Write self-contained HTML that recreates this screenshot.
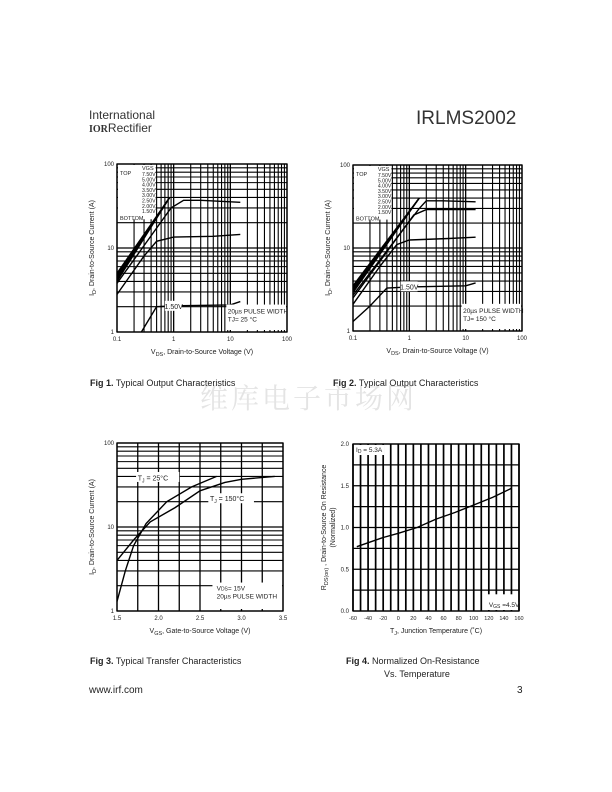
<!DOCTYPE html>
<html><head><meta charset="utf-8"><style>
body{margin:0;background:#fff;}
svg{display:block;font-family:"Liberation Sans",sans-serif;}
</style></head><body>
<svg id="pg" width="612" height="792" viewBox="0 0 612 792">
<g>
<text x="89" y="119" font-size="12" fill="#333">International</text>
<text x="89" y="132" font-size="12" fill="#333"><tspan font-weight="bold" font-family="Liberation Serif" font-size="10">IOR</tspan>Rectifier</text>
<text x="416" y="124" font-size="19" fill="#333">IRLMS2002</text>
</g>
<text x="200" y="408" font-size="28" fill="#e4e4e4" font-family="Liberation Serif,'Noto Serif CJK SC',serif" letter-spacing="3">维库电子市场网</text>
<text x="90" y="386" font-size="9" fill="#222"><tspan font-weight="bold">Fig 1.</tspan>  Typical Output Characteristics</text>
<text x="333" y="386" font-size="9" fill="#222"><tspan font-weight="bold">Fig 2.</tspan>  Typical Output Characteristics</text>
<text x="90" y="664" font-size="9" fill="#222"><tspan font-weight="bold">Fig 3.</tspan>  Typical Transfer Characteristics</text>
<text x="346" y="664" font-size="9" fill="#222"><tspan font-weight="bold">Fig 4.</tspan>  Normalized On-Resistance</text>
<text x="384" y="677" font-size="9" fill="#222">Vs. Temperature</text>
<text x="89" y="693" font-size="10" fill="#222">www.irf.com</text>
<text x="517" y="693" font-size="10" fill="#222">3</text>
</svg>
<script>
// ---- data ----
const fig1Labels = ["7.50V","5.00V","4.00V","3.50V","3.00V","2.50V","2.00V","1.50V"];
const fig1VdsCluster = [0.1, 0.85];
const fig1IdClusterStart = [5.0, 4.8, 4.6, 4.4, 4.2, 4.0];
const fig1IdClusterEnd = [40, 40, 40, 40, 40, 40];
const fig1Vds25 = [0.1, 0.9, 1.5, 3, 15];
const fig1Id25 = [3.8, 30, 37, 37, 35];
const fig1Vds20 = [0.1, 0.3, 0.5, 1, 5, 15];
const fig1Id20 = [2.8, 8, 12, 13.5, 13.8, 14.5];
const fig1Vds15 = [0.27, 0.5, 1, 10, 15];
const fig1Id15 = [1, 2, 2.05, 2.1, 2.3];

const fig2VdsCluster = [0.1, 1.5];
const fig2IdClusterStart = [3.5, 3.35, 3.2, 3.05, 2.9];
const fig2IdClusterEnd = [40, 40, 40, 40, 40];
const fig2Vds30 = [0.1, 1.5, 2, 4, 15];
const fig2Id30 = [2.7, 30, 37, 37, 36];
const fig2Vds25 = [0.1, 1.2, 2, 4, 15];
const fig2Id25 = [2.5, 25, 29, 29, 29];
const fig2Vds20 = [0.1, 0.3, 0.6, 1, 5, 15];
const fig2Id20 = [2.1, 6, 11, 12.5, 13, 13.5];
const fig2Vds15 = [0.1, 0.2, 0.4, 1, 10, 15];
const fig2Id15 = [1.3, 2, 3.3, 3.4, 3.5, 3.8];

const fig3Vgs25 = [1.5, 1.6, 1.7, 1.85, 2.1, 2.4, 2.7];
const fig3Id25 = [1.3, 3, 6, 11, 20, 30, 40];
const fig3Vgs150 = [1.5, 1.7, 1.9, 2.2, 2.5, 2.8, 3.0, 3.4];
const fig3Id150 = [4, 7, 11.5, 17, 27, 34, 37, 40];

const fig4Temp = [-55, -20, 0, 25, 50, 75, 100, 125, 150];
const fig4Rds = [0.77, 0.88, 0.93, 1.0, 1.1, 1.18, 1.27, 1.36, 1.47];
const fig4XTicks = ["-60","-40","-20","0","20","40","60","80","100","120","140","160"];
const fig4YTicks = ["0.0","0.5","1.0","1.5","2.0"];
const fig3XTicks = ["1.5","2.0","2.5","3.0","3.5"];

// ---- helpers ----
const NS="http://www.w3.org/2000/svg";
const svg=document.getElementById('pg');
function el(tag,attrs,parent){const e=document.createElementNS(NS,tag);for(const k in attrs)e.setAttribute(k,attrs[k]);(parent||svg).appendChild(e);return e;}
function txt(x,y,s,size,parent,anchor,extra){const t=el('text',Object.assign({x:x,y:y,'font-size':size,fill:'#222','text-anchor':anchor||'start'},extra||{}),parent);t.textContent=s;return t;}
function logScale(a,b,p0,p1){return v=>p0+(Math.log10(v)-Math.log10(a))/(Math.log10(b)-Math.log10(a))*(p1-p0);}
function linScale(a,b,p0,p1){return v=>p0+(v-a)/(b-a)*(p1-p0);}
function line(g,x1,y1,x2,y2,w){el('line',{x1:x1,y1:y1,x2:x2,y2:y2,stroke:'#000','stroke-width':w||1},g);}
function curve(g,xs,ys,X,Y,name){const p=el('polyline',{points:xs.map((v,i)=>X(v).toFixed(1)+','+Y(ys[i]).toFixed(1)).join(' '),fill:'none',stroke:'#000','stroke-width':1.4},g);

return p;}
function logGridX(g,a,b,X,y0,y1){for(let d=a;d<b;d*=10)for(let m=1;m<10;m++){const v=d*m;line(g,X(v),y0,X(v),y1,m==1?1.3:1.1);}line(g,X(b),y0,X(b),y1,1.3);}
function logGridY(g,a,b,Y,x0,x1){for(let d=a;d<b;d*=10)for(let m=1;m<10;m++){const v=d*m;line(g,x0,Y(v),x1,Y(v),m==1?1.3:1.1);}line(g,x0,Y(b),x1,Y(b),1.3);}
function box(g,x,y,w,h){el('rect',{x:x,y:y,width:w,height:h,fill:'#fff'},g);}

// ---- output characteristic charts ----
function outputChart(name,L,R,T,B,cl,data,tj,lab15){
  const g=el('g',{});
  
  
  const X=logScale(0.1,100,L,R),Y=logScale(1,100,B,T);
  logGridX(g,0.1,100,X,T,B);logGridY(g,1,100,Y,L,R);
  el('rect',{x:L,y:T,width:R-L,height:B-T,fill:'none',stroke:'#000','stroke-width':1.3},g);
  // legend region
  box(g,L+1,T+1,X(0.5)-L-2,Y(22)-T-1);
  txt(L+3,T+11,'TOP',5.5,g);txt(L+3,Y(21)-1,'BOTTOM',5.5,g);
  txt(X(0.35),T+6,'VGS',5.5,g,'middle');
  fig1Labels.forEach((s,i)=>txt(X(0.48),T+12+i*5.3,s,5.2,g,'end'));
  cl.start.forEach((s,i)=>curve(g,cl.vx,[s,cl.end[i]],X,Y,'curve-cluster-'+i));
  data.forEach(d=>curve(g,d[0],d[1],X,Y,d[2]));
  // 1.50V label
  box(g,X(0.7),Y(lab15)-5,X(1.4)-X(0.7),10);
  txt(X(1),Y(lab15)+3,'1.50V',7,g,'middle');
  box(g,X(8.5),Y(1.75)-7,R-X(8.5)-1,Y(1)-Y(1.75)+5);
  txt(X(9),Y(1.75)+2,'20\u00b5s PULSE WIDTH',6.5,g);
  txt(X(9),Y(1.75)+10,tj,6.5,g);
  [[0.1,'0.1'],[1,'1'],[10,'10'],[100,'100']].forEach(t=>txt(X(t[0]),B+9,t[1],6,g,'middle'));
  [[1,'1'],[10,'10'],[100,'100']].forEach(t=>txt(L-3,Y(t[0])+2,t[1],6,g,'end'));
  txt((L+R)/2,B+22,'',7,g,'middle').innerHTML='V<tspan font-size="5.5" dy="2">DS</tspan><tspan dy="-2">, Drain-to-Source Voltage (V)</tspan>';
  const yl=txt(0,0,'',7,g,'middle',{transform:'translate('+(L-23)+','+((T+B)/2)+') rotate(-90)'});
  yl.innerHTML='I<tspan font-size="5.5" dy="2">D</tspan><tspan dy="-2">,  Drain-to-Source Current (A)</tspan>';
}
outputChart('fig1-chart',117,287,164,332,{vx:fig1VdsCluster,start:fig1IdClusterStart,end:fig1IdClusterEnd},
 [[fig1Vds25,fig1Id25,'curve-2.5v'],[fig1Vds20,fig1Id20,'curve-2.0v'],[fig1Vds15,fig1Id15,'curve-1.5v']],'TJ= 25 \u00b0C',2.05);
outputChart('fig2-chart',353,522,165,331,{vx:fig2VdsCluster,start:fig2IdClusterStart,end:fig2IdClusterEnd},
 [[fig2Vds30,fig2Id30,'curve-3.0v'],[fig2Vds25,fig2Id25,'curve-2.5v'],[fig2Vds20,fig2Id20,'curve-2.0v'],[fig2Vds15,fig2Id15,'curve-1.5v']],'TJ= 150 \u00b0C',3.45);

// ---- fig 3 ----
(function(){
  const L=117,R=283,T=443,B=611;
  const g=el('g',{});
  
  
  const X=linScale(1.5,3.5,L,R),Y=logScale(1,100,B,T);
  for(let v=1.5;v<=3.5001;v+=0.25)line(g,X(v),T,X(v),B,1.3);
  logGridY(g,1,100,Y,L,R);
  el('rect',{x:L,y:T,width:R-L,height:B-T,fill:'none',stroke:'#000','stroke-width':1.3},g);
  curve(g,fig3Vgs25,fig3Id25,X,Y,'curve-tj-25');
  curve(g,fig3Vgs150,fig3Id150,X,Y,'curve-tj-150');
  box(g,X(1.73),Y(44)-1,X(2.25)-X(1.73),10);
  txt(X(1.75),Y(36),'',7,g).innerHTML='T<tspan font-size="5" dy="2">J</tspan><tspan dy="-2"> = 25\u00b0C</tspan>';
  box(g,X(2.6),Y(22)-5,X(3.15)-X(2.6),10);
  txt(X(2.62),Y(22)+3,'',7,g).innerHTML='T<tspan font-size="5" dy="2">J</tspan><tspan dy="-2"> = 150\u00b0C</tspan>';
  box(g,X(2.65),Y(1.8)-7,R-X(2.65)-1,Y(1)-Y(1.8)+5);
  txt(X(2.7),Y(1.8)+1,'',6.5,g).innerHTML='V<tspan font-size="5">DS</tspan>= 15V';
  txt(X(2.7),Y(1.8)+9,'20\u00b5s PULSE WIDTH',6.5,g);
  fig3XTicks.forEach(s=>txt(X(parseFloat(s)),B+9,s,6,g,'middle'));
  [[1,'1'],[10,'10'],[100,'100']].forEach(t=>txt(L-3,Y(t[0])+2,t[1],6,g,'end'));
  txt((L+R)/2,B+22,'',7,g,'middle').innerHTML='V<tspan font-size="5.5" dy="2">GS</tspan><tspan dy="-2">, Gate-to-Source Voltage (V)</tspan>';
  txt(0,0,'',7,g,'middle',{transform:'translate('+(L-23)+','+((T+B)/2)+') rotate(-90)'}).innerHTML='I<tspan font-size="5.5" dy="2">D</tspan><tspan dy="-2">,  Drain-to-Source Current (A)</tspan>';
})();

// ---- fig 4 ----
(function(){
  const L=353,R=519,T=444,B=611;
  const g=el('g',{});
  
  
  const X=linScale(-60,160,L,R),Y=linScale(0,2,B,T);
  for(let v=-60;v<=160;v+=10)line(g,X(v),T,X(v),B,1.7);
  for(let v=0;v<=2.0001;v+=0.25)line(g,L,Y(v),R,Y(v),1.3);
  el('rect',{x:L,y:T,width:R-L,height:B-T,fill:'none',stroke:'#000','stroke-width':1.3},g);
  curve(g,fig4Temp,fig4Rds,X,Y,'rds-curve');
  box(g,L+1,T+1,X(-20)-L,Y(1.88)-T);
  txt(L+3,T+8,'',6.5,g).innerHTML='I<tspan font-size="5" dy="1">D</tspan><tspan dy="-1"> = 5.3A</tspan>';
  box(g,X(118),Y(0.2),R-X(118)-1,Y(0)-Y(0.2)-1);
  txt(X(120),B-4,'',6.5,g).innerHTML='V<tspan font-size="5" dy="1">GS</tspan><tspan dy="-1"> =4.5V</tspan>';
  fig4XTicks.forEach(s=>txt(X(parseFloat(s)),B+9,s,5.5,g,'middle'));
  fig4YTicks.forEach(s=>txt(L-4,Y(parseFloat(s))+2,s,6,g,'end'));
  txt((L+R)/2,B+22,'',7,g,'middle').innerHTML='T<tspan font-size="5.5" dy="2">J</tspan><tspan dy="-2">, Junction Temperature  (\u02daC)</tspan>';
  txt(0,0,'',7,g,'middle',{transform:'translate('+(L-27)+','+((T+B)/2)+') rotate(-90)'}).innerHTML='R<tspan font-size="5.5" dy="2">DS(on)</tspan><tspan dy="-2"> , Drain-to-Source On Resistance</tspan>';
  txt(0,0,'(Normalized)',7,g,'middle',{transform:'translate('+(L-18)+','+((T+B)/2)+') rotate(-90)'});
})();
</script>
</body></html>
